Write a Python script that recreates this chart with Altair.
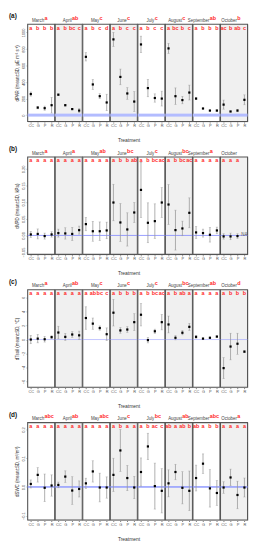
import altair as alt
import pandas as pd

months = ["March", "April", "May", "June", "July", "August", "September", "October"]
treatments = ["CC", "G", "P", "R"]

# (a) dPAR
par_mean = [[255, 91, 84, 120], [247, 120, 73, 55], [705, 371, 229, 153], [916, 462, 262, 164],
            [855, 327, 207, 200], [807, 229, 182, 273], [200, 80, 55, 55], [127, 44, 55, 185]]
par_sd = [[25, 15, 25, 95], [10, 10, 8, 25], [50, 60, 30, 100], [85, 95, 70, 120],
          [100, 105, 50, 90], [60, 100, 45, 90], [10, 5, 5, 8], [55, 5, 15, 60]]
par_letters = [["a", "b", "b", "b"], ["a", "b", "bc", "c"], ["a", "b", "c", "d"], ["a", "b", "c", "c"],
               ["a", "b", "c", "c"], ["a", "bc", "b", "c"], ["a", "b", "b", "b"], ["ac", "b", "ab", "c"]]
par_month_letters = ["a", "ab", "c", "c", "c", "c", "ab", "b"]

# (b) dVPD
vpd_mean = [[0.003, 0.0045, -0.002, 0.003], [0.007, 0.006, 0.0045, 0.016], [0.034, 0.0126, 0.0126, 0.015],
            [0.099, 0.039, 0.018, 0.069], [0.137, 0.038, 0.043, 0.099], [0.093, 0.016, 0.021, 0.068],
            [0.009, 0.007, 0.002, 0.015], [-0.003, -0.003, -0.002, None]]
vpd_sd = [[0.009, 0.015, 0.009, 0.008], [0.012, 0.017, 0.02, 0.012], [0.02, 0.03, 0.028, 0.025],
          [0.055, 0.057, 0.05, 0.03], [0.083, 0.06, 0.052, 0.045], [0.06, 0.06, 0.022, 0.045],
          [0.018, 0.012, 0.022, 0.01], [0.008, 0.01, 0.007, None]]
vpd_letters = [["a", "a", "a", "a"], ["a", "a", "a", "a"], ["a", "a", "a", "a"], ["a", "b", "b", "ab"],
               ["a", "b", "bc", "ac"], ["a", "b", "bc", "ac"], ["a", "a", "a", "a"], ["a", "a", "a", ""]]
vpd_month_letters = ["a", "a", "ab", "bc", "c", "bc", "a", ""]

# (c) dTsoil
ts_mean = [[0.0, 0.13, 0.04, 0.34], [1.0, 0.38, 0.72, 0.6], [3.07, 2.27, 1.64, 0.76], [3.83, 1.3, 1.43, 2.48],
           [3.54, -0.08, 1.18, 2.48], [2.15, 0.25, 0.97, 1.81], [0.38, 0.13, 0.25, 0.42], [-4.08, -1.0, -0.6, -1.73]]
ts_sd = [[0.6, 0.6, 0.4, 0.2], [0.9, 0.5, 0.4, 0.6], [1.6, 0.8, 0.3, 0.9], [1.9, 0.4, 0.4, 1.2],
         [1.6, 0.4, 0.3, 1.1], [1.2, 0.3, 0.3, 0.5], [0.2, 0.1, 0.1, 0.1], [1.5, 1.9, 1.5, 0.15]]
ts_letters = [["a", "a", "a", "a"], ["a", "a", "a", "a"], ["a", "ab", "bc", "c"], ["a", "b", "b", "b"],
              ["a", "b", "bc", "ac"], ["a", "b", "ab", "a"], ["a", "a", "a", "a"], ["a", "b", "b", "b"]]
ts_month_letters = ["a", "ab", "c", "c", "c", "bc", "ab", "d"]

# (d) dSWC
swc_mean = [[0.0104, 0.042, -0.003, 0.005], [0.007, 0.036, -0.0125, -0.007], [0.0125, 0.054, -0.002, -0.002],
            [0.042, 0.127, 0.031, -0.002], [0.052, 0.141, 0.003, -0.0135], [0.0125, 0.052, -0.003, -0.0135],
            [0.031, 0.081, -0.005, -0.021], [-0.002, 0.033, -0.028, -0.002]]
swc_sd = [[0.014, 0.025, 0.048, 0.037], [0.01, 0.02, 0.048, 0.028], [0.018, 0.037, 0.05, 0.037],
          [0.058, 0.073, 0.044, 0.039], [0.049, 0.046, 0.08, 0.077], [0.047, 0.027, 0.056, 0.069],
          [0.045, 0.034, 0.065, 0.043], [0.02, 0.029, 0.048, 0.033]]
swc_letters = [["a", "a", "a", "a"], ["a", "a", "a", "a"], ["a", "a", "a", "a"], ["a", "b", "a", "a"],
               ["a", "b", "ac", "c"], ["ab", "a", "ab", "b"], ["ab", "a", "b", "b"], ["a", "a", "a", "a"]]
swc_month_letters = ["abc", "ab", "abc", "c", "bc", "ab", "abc", "a"]

FONT = "Liberation Sans"
RED = "#ff2b2b"
CW = 27.5
PH = 99


def build_df(mean, sd, letters, mletters):
    rows = []
    for i, m in enumerate(months):
        for j, t in enumerate(treatments):
            rows.append(dict(month=m, treatment=t, mean=mean[i][j], sd=sd[i][j],
                             letter=letters[i][j], mletter=mletters[i]))
    return pd.DataFrame(rows)


def panel(tag, df, ytitle, domain, ticks, fmt, zcolor, zwidth, has_na=False):
    ysc = alt.Scale(domain=domain, nice=False, zero=False)
    xenc = alt.X("treatment:N", sort=treatments,
                 scale=alt.Scale(type="point", domain=treatments, padding=0.45),
                 axis=alt.Axis(title=None, labelFontSize=4, labelAngle=0, tickSize=1.5,
                               labelPadding=1, domain=False, labelColor="#555", tickColor="#777",
                               labelFont=FONT))
    yaxis = alt.Axis(title=ytitle, values=ticks, format=fmt, labelFontSize=4, labelAngle=270,
                     labelAlign="center", labelBaseline="bottom", labelPadding=1, tickSize=1.5,
                     domain=False, grid=False, titleFontSize=4.5, titleFontWeight="normal",
                     titlePadding=2, labelColor="#555", titleColor="#333", tickColor="#777",
                     labelFont=FONT, titleFont=FONT)
    first = alt.datum.treatment == "CC"
    bg = alt.Chart().mark_rect(stroke="#555", strokeWidth=1.1).encode(
        x=alt.value(0), x2=alt.value(CW), y=alt.value(0), y2=alt.value(PH),
        color=alt.Color("shade:N", scale=None)
    ).transform_filter(first).transform_calculate(
        shade="indexof(['April','June','August','October'], datum.month) >= 0 ? '#f0f0f0' : '#ffffff'")
    zero = alt.Chart().mark_rule(color=zcolor, strokeWidth=zwidth).encode(
        y=alt.Y("z:Q", scale=ysc, axis=yaxis)
    ).transform_filter(first).transform_calculate(z="0")
    valid = "isValid(datum.mean)"
    err = alt.Chart().mark_rule(color="#9a9a9a", strokeWidth=0.8).encode(
        x=xenc, y=alt.Y("lo:Q", scale=ysc, axis=yaxis), y2="hi:Q"
    ).transform_filter(valid).transform_calculate(lo="datum.mean - datum.sd", hi="datum.mean + datum.sd")
    caplo = alt.Chart().mark_tick(color="#9a9a9a", size=2.2, thickness=0.6).encode(
        x=xenc, y=alt.Y("lo:Q", scale=ysc, axis=yaxis)
    ).transform_filter(valid).transform_calculate(lo="datum.mean - datum.sd")
    caphi = alt.Chart().mark_tick(color="#9a9a9a", size=2.2, thickness=0.6).encode(
        x=xenc, y=alt.Y("hi:Q", scale=ysc, axis=yaxis)
    ).transform_filter(valid).transform_calculate(hi="datum.mean + datum.sd")
    pts = alt.Chart().mark_square(color="black", size=5, opacity=1).encode(
        x=xenc, y=alt.Y("mean:Q", scale=ysc, axis=yaxis)
    ).transform_filter(valid)
    let = alt.Chart().mark_text(color=RED, fontWeight="bold", fontSize=5.5, baseline="top", font=FONT).encode(
        x=xenc, y=alt.value(1.5), text="letter:N")
    mname = alt.Chart().mark_text(color="#444", fontSize=4.5, align="right", baseline="bottom", font=FONT).encode(
        x=alt.value(CW / 2 + 3), y=alt.value(-1.5), text="month:N").transform_filter(first)
    mlet = alt.Chart().mark_text(color=RED, fontWeight="bold", fontSize=5.5, align="left", baseline="bottom",
                                 font=FONT).encode(
        x=alt.value(CW / 2 + 3.3), y=alt.value(-3.5), text="mletter:N").transform_filter(first)
    tagm = alt.Chart().mark_text(color="#111", fontWeight="bold", fontSize=6.5, align="left", baseline="bottom",
                                 font=FONT).encode(
        x=alt.value(-19), y=alt.value(-5), text=alt.value(tag)
    ).transform_filter("datum.month == 'March' && datum.treatment == 'CC'")
    layers = [bg, zero, err, caplo, caphi, pts, let, mname, mlet, tagm]
    if has_na:
        na = alt.Chart().mark_text(color="#555", fontSize=4.5, font=FONT).encode(
            x=xenc, y=alt.Y("z:Q", scale=ysc, axis=yaxis), text=alt.value("NA")
        ).transform_filter("!isValid(datum.mean)").transform_calculate(z="0")
        layers.append(na)
    return alt.layer(*layers, data=df).properties(width=CW, height=PH).facet(
        column=alt.Column("month:N", sort=months,
                          header=alt.Header(labels=False, title="Treatment", titleOrient="bottom",
                                            titleFontSize=5, titleFontWeight="normal", titleFont=FONT,
                                            titleColor="#333", titlePadding=0, labelPadding=0)),
        spacing=0, bounds="flush"
    )


pa = panel("(a)", build_df(par_mean, par_sd, par_letters, par_month_letters),
           "dPAR (mean±SD, μE m⁻² s⁻¹)", [-78, 1100], [0, 200, 400, 600, 800, 1000], "d",
           "#b3bcff", 3)
pb = panel("(b)", build_df(vpd_mean, vpd_sd, vpd_letters, vpd_month_letters),
           "dVPD (mean±SD, kPa)", [-0.057, 0.236], [-0.05, 0, 0.05, 0.1, 0.15, 0.2], ".2f",
           "#7f86ff", 0.8, has_na=True)
pc = panel("(c)", build_df(ts_mean, ts_sd, ts_letters, ts_month_letters),
           "dTsoil (mean±SD, °C)", [-6.8, 7.1], [-6, -4, -2, 0, 2, 4, 6], "d",
           "#9aa0ff", 0.6)
pd_ = panel("(d)", build_df(swc_mean, swc_sd, swc_letters, swc_month_letters),
            "dSWC (mean±SD, m³/m³)", [-0.115, 0.224], [-0.1, 0, 0.1, 0.2], ".1f",
            "#8f99ff", 1.5)

chart = alt.vconcat(pa, pb, pc, pd_, spacing=2).configure_view(
    stroke=None
).configure(background="white", padding=0)

chart.save("out.html", embed_options={"renderer": "svg", "actions": False})
